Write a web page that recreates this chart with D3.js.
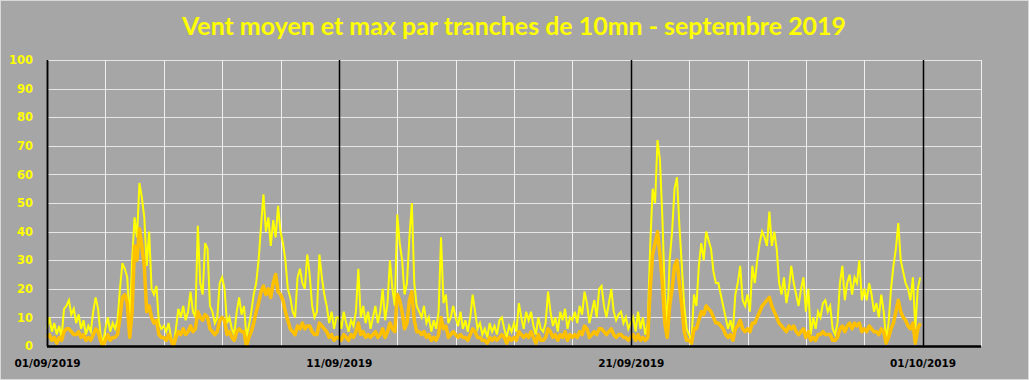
<!DOCTYPE html>
<html>
<head>
<meta charset="utf-8">
<script src="https://cdn.jsdelivr.net/npm/d3@7"></script>
<style>
  html, body { margin: 0; padding: 0; background: #a6a6a6; }
  svg { display: block; }
</style>
</head>
<body>
<svg id="chart" width="1029" height="380"></svg>
<script>
// ---- Data (2-hour samples, 12 per day, 01/09 -> 30/09) ----
const chartTitle = "Vent moyen et max par tranches de 10mn - septembre 2019";
const startDate = new Date(2019, 8, 1);
const endDate = new Date(2019, 9, 3);
const dateTicks = [new Date(2019, 8, 1), new Date(2019, 8, 11), new Date(2019, 8, 21), new Date(2019, 9, 1)];
const yTicks = [0, 10, 20, 30, 40, 50, 60, 70, 80, 90, 100];

const windMax = [
  6, 10, 5, 8, 4, 7, 3, 13, 14, 16, 11, 13,
  8, 11, 6, 9, 4, 7, 5, 12, 17, 13, 4, 1,
  6, 10, 5, 8, 6, 9, 20, 29, 27, 24, 8, 30,
  45, 38, 57, 52, 45, 28, 40, 20, 18, 21, 8, 6,
  7, 5, 8, 3, 0, 6, 13, 10, 14, 9, 12, 19,
  12, 10, 42, 22, 18, 36, 34, 14, 12, 8, 10, 22,
  24, 20, 8, 10, 6, 4, 12, 17, 11, 14, 3, 7,
  12, 18, 22, 30, 42, 53, 40, 45, 35, 44, 38, 49,
  40, 36, 30, 20, 17, 12, 10, 24, 27, 22, 20, 32,
  25, 14, 10, 12, 32, 24, 18, 14, 8, 12, 6, 10,
  10, 6, 12, 8, 5, 9, 7, 12, 27, 10, 14, 8,
  12, 6, 10, 14, 8, 12, 20, 9, 15, 30, 20, 14,
  46, 36, 30, 18, 22, 38, 50, 22, 14, 12, 10, 14,
  8, 10, 5, 9, 6, 12, 38, 15, 18, 8, 10, 14,
  10, 7, 12, 6, 9, 5, 10, 18, 12, 6, 8, 4,
  6, 3, 8, 5, 7, 4, 9, 10, 6, 3, 7, 5,
  8, 5, 15, 10, 6, 12, 9, 12, 7, 4, 10, 6,
  5, 8, 19, 12, 7, 10, 5, 12, 9, 13, 6, 10,
  9, 12, 8, 14, 11, 19, 15, 8, 12, 16, 10, 20,
  21, 14, 10, 15, 20, 12, 9, 11, 12, 8, 10, 6,
  8, 10, 5, 12, 6, 10, 4, 8, 35, 55, 50, 72,
  65, 45, 18, 8, 30, 40, 55, 59, 42, 28, 14, 6,
  4, 2, 18, 14, 28, 36, 30, 40, 37, 34, 26, 22,
  22, 18, 14, 10, 6, 9, 5, 18, 22, 28, 16, 14,
  18, 12, 28, 22, 30, 36, 40, 38, 35, 47, 35, 40,
  34, 22, 18, 24, 15, 20, 28, 22, 18, 14, 20, 24,
  12, 20, 4, 10, 6, 12, 10, 15, 16, 12, 14, 6,
  4, 8, 22, 28, 16, 22, 25, 18, 24, 22, 30, 16,
  20, 16, 22, 18, 12, 15, 10, 18, 12, 2, 8, 20,
  28, 34, 43, 30, 26, 22, 20, 16, 24, 6, 20, 24
];

const windMean = [
  3, 4, 2, 3, 1, 3, 2, 5, 6, 6, 5, 4,
  4, 5, 3, 4, 2, 3, 2, 4, 6, 5, 2, 0,
  2, 4, 2, 3, 3, 4, 10, 17, 18, 15, 3, 12,
  35, 30, 41, 35, 28, 12, 14, 10, 8, 9, 4, 3,
  3, 2, 4, 2, 0, 3, 5, 4, 6, 4, 5, 7,
  5, 6, 12, 10, 9, 11, 10, 6, 5, 4, 5, 9,
  10, 9, 4, 5, 3, 2, 5, 6, 5, 5, 0, 3,
  5, 8, 12, 15, 19, 21, 18, 20, 17, 22, 25, 19,
  18, 16, 12, 9, 6, 5, 4, 7, 6, 8, 6, 7,
  7, 5, 4, 4, 8, 7, 6, 5, 3, 4, 2, 3,
  3, 2, 4, 3, 2, 4, 3, 5, 8, 4, 5, 3,
  4, 3, 4, 5, 3, 4, 6, 3, 5, 8, 6, 5,
  18, 16, 12, 6, 8, 16, 19, 9, 5, 5, 4, 5,
  3, 4, 2, 3, 2, 4, 10, 6, 7, 3, 4, 5,
  4, 3, 4, 3, 3, 2, 4, 6, 5, 3, 3, 2,
  2, 1, 3, 2, 3, 2, 3, 4, 3, 1, 3, 2,
  3, 2, 5, 4, 3, 4, 3, 5, 3, 1, 4, 2,
  2, 3, 6, 5, 3, 4, 2, 4, 3, 5, 2, 4,
  3, 4, 3, 5, 4, 7, 6, 3, 4, 5, 4, 6,
  6, 5, 4, 5, 6, 4, 3, 4, 4, 3, 3, 2,
  3, 4, 2, 4, 2, 3, 2, 3, 20, 32, 36, 40,
  32, 22, 8, 3, 14, 20, 28, 30, 22, 14, 5, 2,
  2, 1, 6, 6, 9, 12, 11, 14, 13, 12, 10, 8,
  8, 7, 6, 4, 3, 4, 2, 6, 7, 9, 6, 5,
  6, 5, 8, 8, 10, 12, 14, 15, 16, 17, 14, 12,
  10, 8, 7, 6, 5, 7, 6, 7, 5, 4, 5, 6,
  3, 5, 2, 3, 2, 4, 4, 5, 4, 4, 4, 2,
  2, 3, 6, 7, 5, 7, 8, 6, 8, 7, 8, 5,
  6, 5, 7, 6, 5, 5, 4, 6, 5, 1, 3, 6,
  8, 12, 16, 12, 10, 9, 7, 6, 8, 1, 6, 8
];

// ---- Layout ----
const W = 1029, H = 380;
const margin = { left: 47, right: 48, top: 60, bottom: 34 };
const svg = d3.select("#chart");

svg.append("rect").attr("x", 0.5).attr("y", 0.5).attr("width", W - 1).attr("height", H - 1)
  .attr("fill", "#a6a6a6").attr("stroke", "#d9d9d9");

const x = d3.scaleTime().domain([startDate, endDate]).range([margin.left, W - margin.right]);
const y = d3.scaleLinear().domain([0, 100]).range([H - margin.bottom, margin.top]);

// horizontal gridlines
svg.append("g").selectAll("line").data(yTicks.filter(v => v > 0)).join("line")
  .attr("x1", margin.left).attr("x2", W - margin.right)
  .attr("y1", d => Math.round(y(d)) + 0.5).attr("y2", d => Math.round(y(d)) + 0.5)
  .attr("stroke", "#e6e6e6").attr("stroke-width", 1);

// vertical gridlines every 2 days
const gridDays = d3.range(0, 33, 2).map(d => d3.timeDay.offset(startDate, d));
svg.append("g").selectAll("line").data(gridDays).join("line")
  .attr("x1", d => Math.round(x(d)) + 0.5).attr("x2", d => Math.round(x(d)) + 0.5)
  .attr("y1", y(100)).attr("y2", y(0))
  .attr("stroke", "#f0f0f0").attr("stroke-width", 1);

// series
const times = windMax.map((_, i) => d3.timeHour.offset(startDate, i * 2));
const line = d3.line().x((d, i) => x(times[i])).y(d => y(d));

svg.append("path").datum(windMax).attr("d", line)
  .attr("fill", "none").attr("stroke", "#ffff00").attr("stroke-width", 2)
  .attr("stroke-linejoin", "miter");
svg.append("path").datum(windMean).attr("d", line)
  .attr("fill", "none").attr("stroke", "#ffc000").attr("stroke-width", 3.5)
  .attr("stroke-linejoin", "round");

// black separators at labelled dates
svg.append("g").selectAll("line").data(dateTicks).join("line")
  .attr("x1", d => Math.round(x(d)) + 0.5).attr("x2", d => Math.round(x(d)) + 0.5)
  .attr("y1", y(100)).attr("y2", y(0))
  .attr("stroke", "#000").attr("stroke-width", 1.5);

// axes lines
svg.append("line").attr("x1", margin.left).attr("x2", W - margin.right)
  .attr("y1", y(0) + 0.5).attr("y2", y(0) + 0.5).attr("stroke", "#000").attr("stroke-width", 2.5);

// y labels
const yAxis = d3.axisLeft(y).tickValues(yTicks).tickSize(0).tickPadding(14);
const gy = svg.append("g").attr("transform", `translate(${margin.left},0)`).call(yAxis);
gy.select(".domain").attr("stroke", "#000").attr("stroke-width", 1.5);
gy.selectAll("text").attr("fill", "#ffff00").attr("font-family", "'DejaVu Sans', Verdana, sans-serif")
  .attr("font-weight", "bold").attr("font-size", "11.5px");

// x labels
const xAxis = d3.axisBottom(x).tickValues(dateTicks).tickFormat(d3.timeFormat("%d/%m/%Y")).tickSize(0).tickPadding(14);
const gx = svg.append("g").attr("transform", `translate(0,${y(0)})`).call(xAxis);
gx.select(".domain").remove();
gx.selectAll("text").attr("fill", "#000").attr("font-family", "'DejaVu Sans', Tahoma, sans-serif")
  .attr("font-weight", "bold").attr("font-size", "10.5px");

// title
const title = svg.append("text").attr("x", 514).attr("y", 35).attr("text-anchor", "middle")
  .attr("fill", "#ffff00").attr("font-family", "Lato, 'Open Sans', sans-serif").attr("font-weight", "bold")
  .attr("font-size", "24px").text(chartTitle);
const tw = title.node().getComputedTextLength();
title.attr("font-size", (24 * 664 / tw).toFixed(2) + "px");
</script>
</body>
</html>
